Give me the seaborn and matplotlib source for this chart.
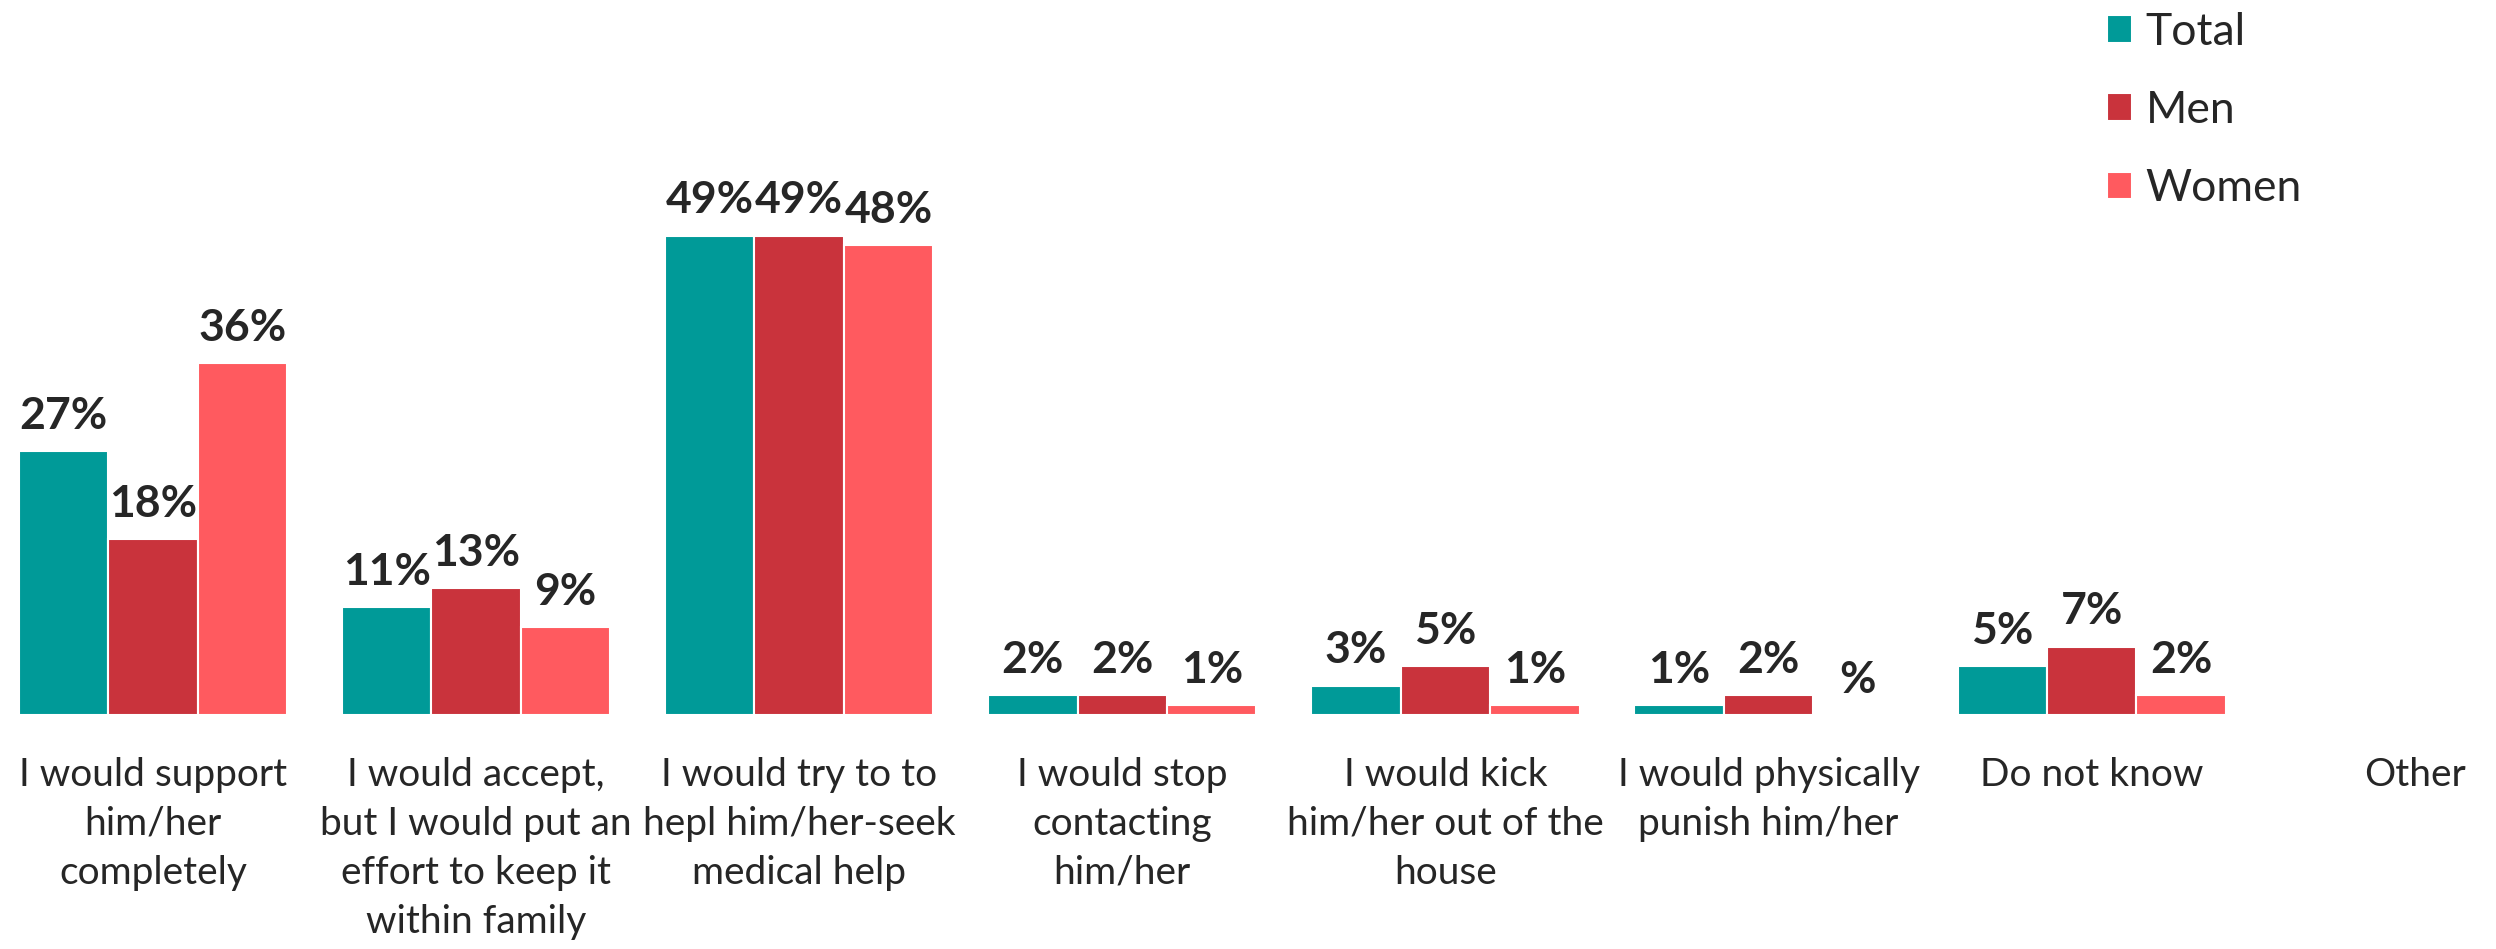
import pandas as pd
import seaborn as sns
import matplotlib.pyplot as plt

# categories / series
categories = [
    "I would support\nhim/her\ncompletely",
    "I would accept,\nbut I would put an\neffort to keep it\nwithin family",
    "I would try to to\nhepl him/her-seek\nmedical help",
    "I would stop\ncontacting\nhim/her",
    "I would kick\nhim/her out of the\nhouse",
    "I would physically\npunish him/her",
    "Do not know",
    "Other",
]
groups = ["Total", "Men", "Women"]
total = [27, 11, 49, 2, 3, 1, 5]
men = [18, 13, 49, 2, 5, 2, 7]
women = [36, 9, 48, 1, 1, 0, 2]
colors = ["#009A98", "#C9333C", "#FF5A5F"]


def pct_label(v):
    # the source shows a bare "%" where the value is missing
    return f"{v:.0f}%" if v > 0 else "%"


def main():
    sns.set_style("white")
    plt.rcParams["font.family"] = ["Lato", "DejaVu Sans"]
    text_color = "#262626"

    rows = []
    for name, values in zip(groups, [total, men, women]):
        for cat, v in zip(categories, values):
            rows.append({"category": cat, "group": name, "value": v})
    df = pd.DataFrame(rows)

    fig = plt.figure(figsize=(24.96, 9.49), dpi=100)
    ax = fig.add_axes([0, 0.2466, 1, 0.7534])

    sns.barplot(
        data=df, x="category", y="value", hue="group",
        order=categories, hue_order=groups, palette=colors,
        saturation=1, width=0.83, edgecolor="white", linewidth=1.5,
        ax=ax,
    )

    for cont, values in zip(ax.containers, [total, men, women]):
        ax.bar_label(cont, labels=[pct_label(v) for v in values], padding=11,
                     fontsize=32, fontweight="bold", color=text_color)

    ax.set_xlim(-0.473, 7.251)
    ax.set_ylim(0, 73.1)
    ax.set_xlabel("")
    ax.set_ylabel("")
    ax.set_yticks([])
    ax.set_xticks(range(len(categories)))
    ax.set_xticklabels(categories, fontsize=28, color=text_color, linespacing=1.45)
    ax.tick_params(axis="x", length=0, pad=30)
    sns.despine(ax=ax, left=True, bottom=True)

    handles, labels = ax.get_legend_handles_labels()
    ax.legend_.remove()
    fig.legend(handles, labels, loc="upper left", bbox_to_anchor=(0.828, 1.03),
               frameon=False, fontsize=32, handlelength=0.58, handleheight=0.58,
               labelspacing=0.84, handletextpad=0.3, labelcolor=text_color)

    fig.savefig("out.png", dpi=100)


if __name__ == "__main__":
    main()
